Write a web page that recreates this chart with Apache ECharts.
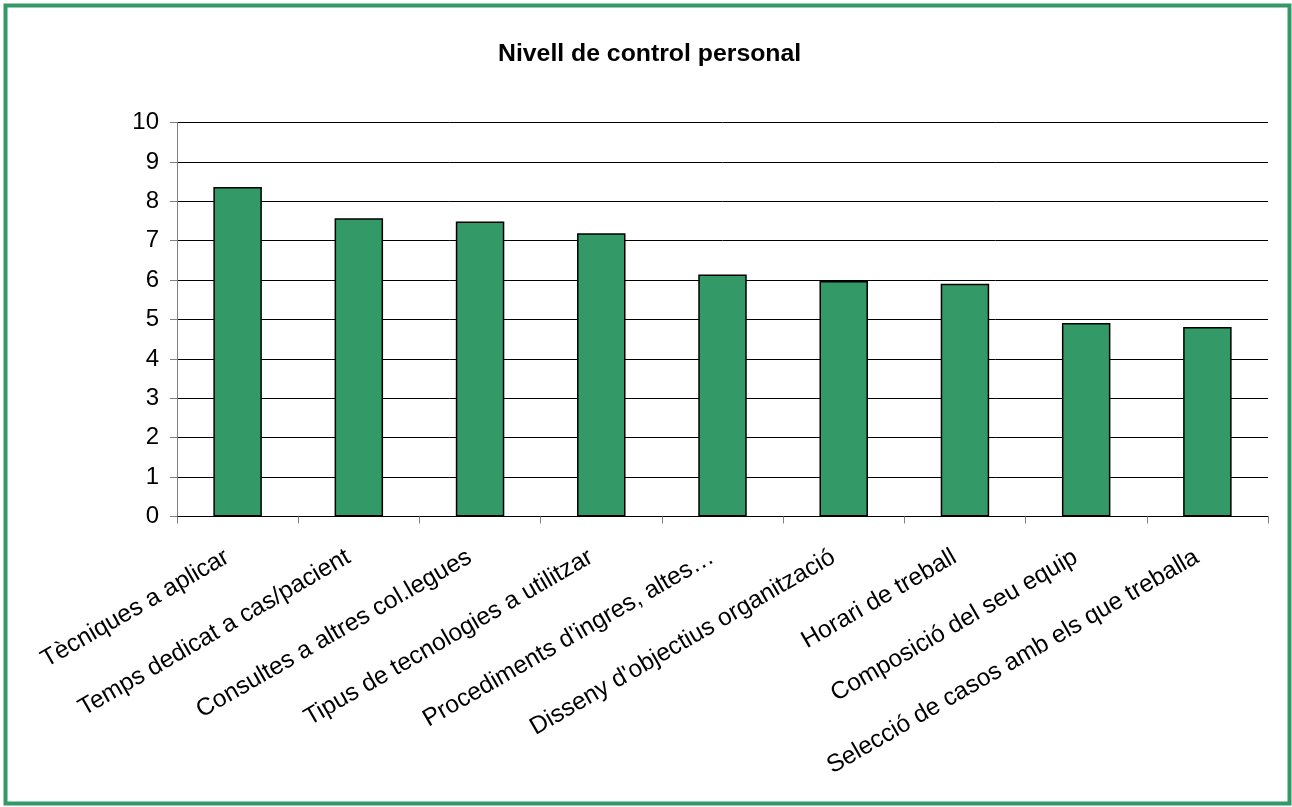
<!DOCTYPE html>
<html>
<head>
<meta charset="utf-8">
<script src="https://cdn.jsdelivr.net/npm/echarts@6/dist/echarts.min.js"></script>
<style>
html,body{margin:0;padding:0;background:#fff;}
#chart{width:1292px;height:807px;}
</style>
</head>
<body>
<div id="chart"></div>
<script>
const titleText = "Nivell de control personal";
const categories = [
  "Tècniques a aplicar",
  "Temps dedicat a cas/pacient",
  "Consultes a altres col.legues",
  "Tipus de tecnologies a utilitzar",
  "Procediments d'ingres, altes…",
  "Disseny d'objectius organització",
  "Horari de treball",
  "Composició del seu equip",
  "Selecció de casos amb els que treballa"
];
const values = [8.36, 7.57, 7.49, 7.19, 6.14, 5.98, 5.91, 4.91, 4.81];
const yMin = 0, yMax = 10, yStep = 1;

const chart = echarts.init(document.getElementById('chart'), null, {renderer: 'canvas'});
const font = '"Liberation Sans", Arial, sans-serif';
chart.setOption({
  animation: false,
  backgroundColor: '#ffffff',
  title: {
    text: titleText,
    left: 493,
    top: 37,
    textStyle: {fontFamily: font, fontSize: 24.8, fontWeight: 'bold', color: '#000'}
  },
  graphic: [{
    type: 'rect',
    shape: {x: 5.5, y: 5.5, width: 1284, height: 798},
    style: {fill: 'none', stroke: '#339966', lineWidth: 4},
    silent: true,
    z: 100
  }],
  grid: {left: 177, right: 24, top: 122.5, bottom: 290.5, containLabel: false, outerBoundsMode: 'none'},
  xAxis: {
    type: 'category',
    data: categories,
    boundaryGap: true,
    axisLine: {show: true, lineStyle: {color: '#000', width: 1}},
    axisTick: {show: true, alignWithLabel: false, length: 7, lineStyle: {color: '#808080'}},
    axisLabel: {
      interval: 0, rotate: 30, margin: 33, padding: [0, 12, 0, 0],
      fontFamily: font, fontSize: 24.5, color: '#000'
    },
    splitLine: {show: false}
  },
  yAxis: {
    type: 'value',
    min: yMin, max: yMax, interval: yStep,
    axisLine: {show: true, lineStyle: {color: '#808080', width: 1}},
    axisTick: {show: true, length: 7, lineStyle: {color: '#808080'}},
    axisLabel: {margin: 18, fontFamily: font, fontSize: 24, color: '#000'},
    splitLine: {show: true, lineStyle: {color: '#000', width: 1}}
  },
  series: [{
    type: 'bar',
    data: values,
    barWidth: '40%',
    itemStyle: {color: '#339966', borderColor: '#000', borderWidth: 1.5}
  }]
});
</script>
</body>
</html>
